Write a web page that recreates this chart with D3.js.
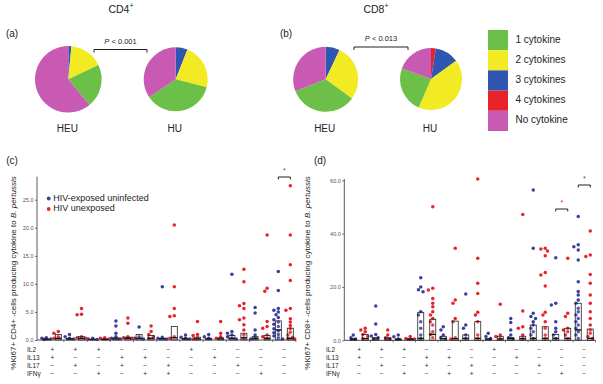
<!DOCTYPE html>
<html><head><meta charset="utf-8">
<script src="https://cdn.jsdelivr.net/npm/d3@7"></script>
<style>
body{margin:0;background:#fff;}
text{font-family:"Liberation Sans",Arial,sans-serif;fill:#222;}
</style></head>
<body>
<svg id="c" width="603" height="384"></svg>
<script>
// ---------- data ----------
const cytoCats = ["4 cytokines","3 cytokines","2 cytokines","1 cytokine","No cytokine"];
const legendCats = ["1 cytokine","2 cytokines","3 cytokines","4 cytokines","No cytokine"];
const cytoColors = {"1 cytokine":"#6cbf47","2 cytokines":"#f2ea22","3 cytokines":"#2f56b0","4 cytokines":"#e7222b","No cytokine":"#c95ab4"};
// pie fractions (%) in order of cytoCats
const pieCD4HEU = [0, 1.5, 16.5, 21, 61];
const pieCD4HU  = [0, 6, 23, 36.5, 34.5];
const pieCD8HEU = [0, 7, 28, 34, 31];
const pieCD8HU  = [2.5, 12.5, 41.5, 24, 19.5];

const groups = ["IL2+IL13+","IL2+IL17+","IL2+IFNg+","IL13+IL17+","IL13+IFNg+","IL17+IFNg+","IL2+","IL13+","IL17+","IFNg+","none"];
const rowNames = ["IL2","IL13","IL17","IFNγ"];
const rowIL2  = ["+","+","+","−","−","−","+","−","−","−","−"];
const rowIL13 = ["+","−","−","+","+","−","−","+","−","−","−"];
const rowIL17 = ["−","+","−","+","−","+","−","−","+","−","−"];
const rowIFNg = ["−","−","+","−","+","+","−","−","−","+","−"];

const cd4HEU = [
 [0.4,0.3,0.2,0.1],
 [1.0,0.6,0.3,0.2],
 [0.3,0.2,0.1],
 [3.4,2.5,1.2,0.6,0.3,0.2],
 [2.3,0.6,0.3,0.2],
 [9.5,0.5,0.3,0.2],
 [0.9,0.5,0.3,0.2],
 [1.0,0.6,0.3],
 [11.7,1.5,1.2,0.9,0.6,0.3,0.2],
 [5.8,4.8,1.8,0.9,0.3,0.2],
 [12.2,8.8,5.6,5.3,5.0,4.5,4.0,3.6,3.2,2.8,2.4,2.0,1.6,1.3,1.0,0.7,0.4,0.2]
];
const cd4HU = [
 [1.5,1.2,0.6,0.3],
 [5.6,4.6,4.5,0.6,0.4,0.3],
 [0.4,0.3,0.2],
 [3.9,3.0,0.6,0.4,0.3],
 [2.5,1.5,1.0,0.6,0.3],
 [20.5,9.5,5.6,4.3,4.2,0.6,0.3],
 [3.3,1.0,0.8,0.4,0.2],
 [3.3,1.2,0.6,0.3],
 [12.6,10.4,6.5,6.1,5.6,3.9,3.6,2.7,1.8,0.9,0.3],
 [18.7,9.2,8.7,3.3,2.4,2.1,0.9,0.6,0.3],
 [27.5,18.7,13.4,10.6,5.6,5.3,3.8,3.2,2.6,2.0,1.4,0.9,0.5,0.3,0.2]
];
const cd4BarHEU = [0.2,0.3,0.1,0.4,1.0,0.3,0.3,0.3,0.8,0.6,3.4];
const cd4MedHEU = [0.1,0.2,0.1,0.2,0.3,0.2,0.2,0.2,0.3,0.3,1.8];
const cd4BarHU  = [1.0,0.6,0.2,0.5,0.8,2.4,0.5,0.4,1.2,0.8,2.1];
const cd4MedHU  = [0.3,0.3,0.1,0.3,0.3,0.4,0.2,0.2,0.4,0.3,0.3];

const cd8HEU = [
 [2.0,1.0,0.5],
 [12.9,6.1,2.2,1.6,1.0,0.5],
 [2.0,1.3,0.5],
 [23.5,20.0,19.0,18.2,10.7,9.5,7.0,4.5,2.0,0.7],
 [5.1,3.9,2.0,1.0,0.5],
 [17.4,5.7,4.5,2.0,0.7],
 [2.6,1.4,0.7],
 [8.2,6.7,3.9,2.0,1.0,0.5],
 [56.4,34.5,10.1,8.9,8.2,7.0,5.7,4.5,3.2,2.0,0.7],
 [31.0,13.9,13.2,7.0,4.5,3.2,2.0,0.7],
 [46.4,35.8,35.1,33.9,30.1,22.0,18.3,17.0,15.1,13.9,12.0,10.7,9.5,8.2,7.0,5.7,4.5,3.2,2.0,0.7]
];
const cd8HU = [
 [4.5,3.9,3.2,2.2,1.4,0.7],
 [3.9,2.0,1.0,0.5],
 [1.4,0.7,0.5],
 [50.1,19.5,18.9,15.7,13.9,12.6,10.7,9.5,8.2,7.0,5.7,3.2,2.2,1.0],
 [34.5,15.1,13.9,8.2,7.0,1.0,0.5],
 [60.5,30.8,21.4,17.6,10.5,9.5,7.0,2.0,0.7],
 [13.5,2.0,1.4,0.7],
 [47.2,11.0,5.1,4.5,2.0,0.7],
 [34.5,34.2,33.5,31.7,25.4,24.5,20.4,10.5,9.5,7.0,4.5,2.0,0.7],
 [30.8,10.1,8.9,4.5,3.9,3.2,2.0,0.7],
 [41.0,32.0,31.4,24.7,21.4,17.0,13.9,10.7,8.2,5.7,3.9,2.6,1.4,0.7]
];
const cd8BarHEU = [0.5,1.0,0.5,10.5,1.5,2.0,0.5,1.0,5.7,2.2,13.9];
const cd8MedHEU = [0.4,0.5,0.4,0.7,0.6,0.7,0.5,0.6,0.7,0.7,3.9];
const cd8BarHU  = [2.2,1.0,0.7,7.9,7.2,7.0,1.5,1.5,5.1,4.5,4.2];
const cd8MedHU  = [0.6,0.5,0.4,2.2,0.6,0.7,0.5,0.6,0.7,0.7,0.7];

const cd4Ticks = [0,5,10,15,20,25];
const cd8Ticks = [0,20,40,60];

// ---------- drawing ----------
const svg = d3.select("#c");
const BLUE = "#3b3f9e", RED = "#e8232b", INK = "#222";

function supTitle(x, y, main){
  const t = svg.append("text").attr("x",x).attr("y",y).attr("text-anchor","middle").attr("dominant-baseline","middle").style("font-size","10.5px").style("fill",INK);
  t.append("tspan").text(main);
  t.append("tspan").attr("dy",-4).style("font-size","7px").text("+");
}
supTitle(121, 10, "CD4");
supTitle(376, 10, "CD8");

[["(a)",12,34],["(b)",286,34],["(c)",12,161],["(d)",320,161]].forEach(d=>{
  svg.append("text").attr("x",d[1]).attr("y",d[2]).attr("text-anchor","middle").attr("dominant-baseline","middle").style("font-size","10px").style("fill",INK).text(d[0]);
});

const pieGen = d3.pie().sort(null).value(d=>d.v);
function drawPie(cx, cy, r, vals, label){
  const data = cytoCats.map((c,i)=>({c, v: vals[i]}));
  const arc = d3.arc().innerRadius(0).outerRadius(r);
  const g = svg.append("g").attr("transform",`translate(${cx},${cy})`);
  g.selectAll("path").data(pieGen(data)).join("path")
    .attr("d",arc).attr("fill",d=>cytoColors[d.data.c]);
  svg.append("text").attr("x",cx-1).attr("y",129).attr("text-anchor","middle").attr("dominant-baseline","middle").style("font-size","10px").style("fill",INK).text(label);
}
drawPie(68.3, 79.3, 33.3, pieCD4HEU, "HEU");
drawPie(175.7, 79.3, 32, pieCD4HU, "HU");
drawPie(325.7, 79.3, 32.5, pieCD8HEU, "HEU");
drawPie(431, 79, 31, pieCD8HU, "HU");

function pBracket(x1, x2, y, label){
  svg.append("path").attr("d",`M${x1},${y+3}V${y}H${x2}V${y+3}`).attr("fill","none").attr("stroke",INK).attr("stroke-width",1);
  const t = svg.append("text").attr("x",(x1+x2)/2).attr("y",y-8).attr("text-anchor","middle").attr("dominant-baseline","middle").style("font-size","7.5px").style("fill",INK);
  t.append("tspan").style("font-style","italic").text("P");
  t.append("tspan").text(" < " + label);
}
pBracket(94, 147, 49.5, "0.001");
pBracket(354, 408, 47, "0.013");

const lg = svg.append("g");
legendCats.forEach((c,i)=>{
  lg.append("rect").attr("x",488).attr("y",30+i*20.2).attr("width",20).attr("height",20.2).attr("fill",cytoColors[c]);
  lg.append("text").attr("x",515.5).attr("y",40+i*20.2).attr("dominant-baseline","middle").style("font-size","10px").style("fill",INK).text(c);
});

function dodge(values, y, r){
  const placed = [];
  const cand = [0,-2.3,2.3,-4.4,4.4,-1.2,1.2,-3.4,3.4];
  const order = values.map((v,i)=>i).sort((a,b)=>values[b]-values[a]);
  const out = new Array(values.length);
  order.forEach(i=>{
    const py = y(values[i]);
    let best = null, bestD = -1;
    for (const dx of cand){
      let md = Infinity;
      placed.forEach(p=>{ md = Math.min(md, Math.hypot(p.x-dx, p.y-py)); });
      if (md >= 2*r*0.95){ best = dx; break; }
      if (md > bestD){ bestD = md; best = dx; }
    }
    placed.push({x:best, y:py});
    out[i] = {v: values[i], dx: best};
  });
  return out;
}

function scatterPanel(opt){
  const g = svg.append("g");
  const x = d3.scaleBand().domain(groups).range([opt.x0, opt.x1]);
  const sub = d3.scalePoint().domain(["HEU","HU"]).range([-6,6]);
  const y = d3.scaleLinear().domain([0, opt.ymax]).range([opt.yb, opt.yt]);
  const ax = g.append("g").attr("transform",`translate(${opt.ax},0)`)
    .call(d3.axisLeft(y).tickValues(opt.ticks).tickFormat(d3.format(".1f")).tickSize(2).tickPadding(1.5));
  ax.select(".domain").attr("stroke","#333").attr("stroke-width",0.8).attr("d",`M0,${opt.yb}V${opt.yt}`);
  ax.selectAll(".tick line").attr("stroke","#333").attr("stroke-width",0.7);
  ax.selectAll(".tick text").style("font-size","5.5px").style("fill","#555").style("font-family","Liberation Sans, Arial");
  const tt = g.append("text").attr("transform",`translate(${opt.titleX},${opt.titleY}) rotate(-90)`)
    .attr("text-anchor","middle").attr("dominant-baseline","middle").style("font-size","8px").style("fill",INK);
  tt.append("tspan").text(opt.title + " -cells producing cytokine to ");
  tt.append("tspan").style("font-style","italic").text("B. pertussis");
  [["HEU",opt.heu,BLUE],["HU",opt.hu,RED]].forEach(([s,arr,col])=>{
    arr.forEach((vals,gi)=>{
      const cx = x(groups[gi]) + x.bandwidth()/2 + sub(s);
      const pts = dodge(vals, y, 1.75);
      g.selectAll(null).data(pts).join("circle")
        .attr("cx",d=>cx+d.dx).attr("cy",d=>y(d.v)).attr("r",1.75).attr("fill",col);
    });
  });
  [["HEU",opt.barHEU,opt.medHEU],["HU",opt.barHU,opt.medHU]].forEach(([s,bars,meds])=>{
    groups.forEach((gname,gi)=>{
      const cx = x(gname) + x.bandwidth()/2 + sub(s);
      g.append("rect").attr("x",cx-3).attr("width",6).attr("y",y(bars[gi])).attr("height",y(0)-y(bars[gi]))
        .attr("fill","rgba(255,255,255,0.15)").attr("stroke",INK).attr("stroke-width",0.8);
      g.append("line").attr("x1",cx-3).attr("x2",cx+3).attr("y1",y(meds[gi])).attr("y2",y(meds[gi]))
        .attr("stroke","#111").attr("stroke-width",1.4);
    });
  });
  g.append("line").attr("x1",opt.ax).attr("x2",opt.x1).attr("y1",opt.yb).attr("y2",opt.yb).attr("stroke","#333").attr("stroke-width",0.9);
  g.selectAll(null).data(groups).join("line")
    .attr("x1",d=>x(d)+x.bandwidth()).attr("x2",d=>x(d)+x.bandwidth())
    .attr("y1",opt.yb).attr("y2",opt.yb+2).attr("stroke","#333").attr("stroke-width",0.7);
  const rows = [rowIL2,rowIL13,rowIL17,rowIFNg];
  rows.forEach((row,ri)=>{
    const ry = 350 + ri*8;
    g.append("text").attr("x",opt.rowX).attr("y",ry).attr("dominant-baseline","middle").style("font-size","6.5px").style("fill",INK).text(rowNames[ri]);
    g.selectAll(null).data(row).join("text")
      .attr("x",(d,i)=>x(groups[i])+x.bandwidth()/2).attr("y",ry)
      .attr("text-anchor","middle").attr("dominant-baseline","middle").style("font-size","6.5px").style("fill",INK).text(d=>d);
  });
  opt.sig.forEach(sg=>{
    const xa = x(sg.g)+x.bandwidth()/2+sub("HEU"), xb = x(sg.g)+x.bandwidth()/2+sub("HU");
    g.append("path").attr("d",`M${xa},${sg.y+2.5}V${sg.y}H${xb}V${sg.y+2.5}`).attr("fill","none").attr("stroke",INK).attr("stroke-width",1);
    g.append("text").attr("x",(xa+xb)/2).attr("y",sg.y-6).attr("text-anchor","middle").attr("dominant-baseline","middle")
      .style("font-size","7px").style("fill",sg.col).text("*");
  });
  return {x,y};
}

scatterPanel({x0:40.7, x1:295.9, ax:37, yb:340, yt:176.7, ymax:29.1, ticks:cd4Ticks,
  heu:cd4HEU, hu:cd4HU, barHEU:cd4BarHEU, medHEU:cd4MedHEU, barHU:cd4BarHU, medHU:cd4MedHU,
  title:"%Ki67+ CD4+", titleX:14, titleY:273, rowX:27,
  sig:[{g:"none", y:177, col:"#555"}]});
scatterPanel({x0:348, x1:595.5, ax:344.3, yb:340.3, yt:179, ymax:60.5, ticks:cd8Ticks,
  heu:cd8HEU, hu:cd8HU, barHEU:cd8BarHEU, medHEU:cd8MedHEU, barHU:cd8BarHU, medHU:cd8MedHU,
  title:"%Ki67+ CD8+", titleX:308, titleY:273, rowX:326,
  sig:[{g:"IFNg+", y:209, col:RED},{g:"none", y:185, col:BLUE}]});

[["HIV-exposed uninfected",BLUE,198.5],["HIV unexposed",RED,209]].forEach(([t,c,yy])=>{
  svg.append("circle").attr("cx",48.7).attr("cy",yy).attr("r",1.9).attr("fill",c);
  svg.append("text").attr("x",53.3).attr("y",yy).attr("dominant-baseline","middle").style("font-size","9px").style("fill",INK).text(t);
});
</script>
</body></html>
